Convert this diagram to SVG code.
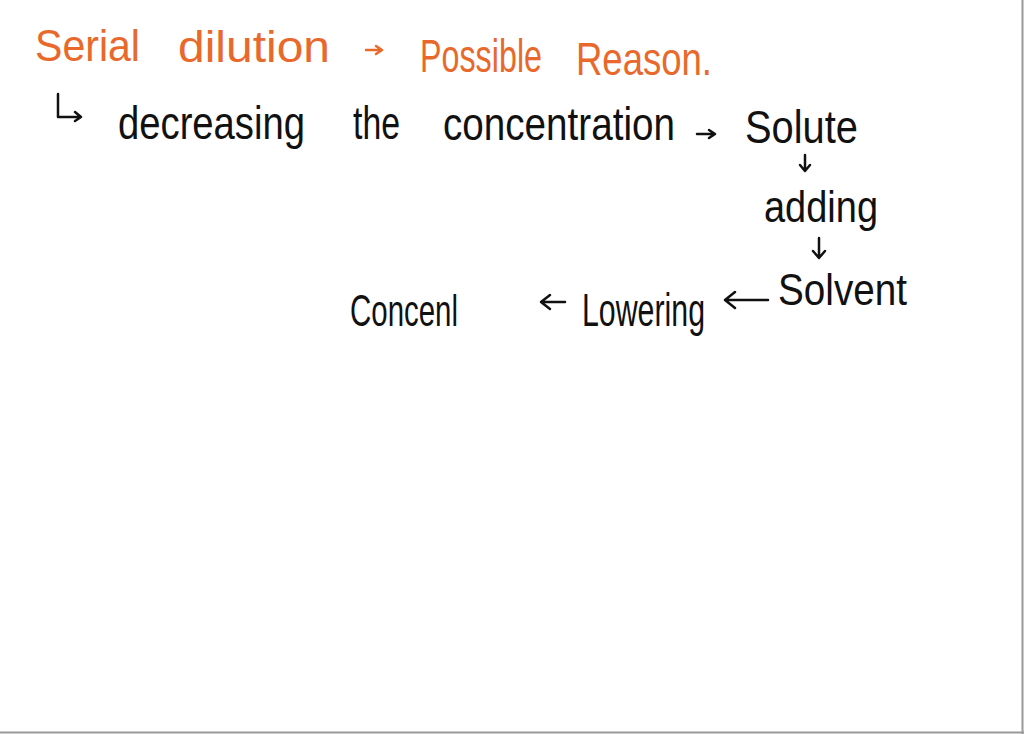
<svg xmlns="http://www.w3.org/2000/svg" width="1024" height="734" viewBox="0 0 1024 734">
<style>
.t{font-family:"Liberation Sans","DejaVu Sans",sans-serif;font-weight:normal}
.o{fill:#E8692B}
.k{fill:#111}
.ao{stroke:#E8692B;stroke-width:2.5;fill:none;stroke-linecap:round;stroke-linejoin:round}
.ak{stroke:#111;stroke-width:2.5;fill:none;stroke-linecap:round;stroke-linejoin:round}
</style>
<rect width="1024" height="734" fill="#fff"/>
<line x1="1022.5" y1="0" x2="1022.5" y2="734" stroke="#999" stroke-width="2"/>
<line x1="0" y1="732.5" x2="1024" y2="732.5" stroke="#999" stroke-width="2"/>
<g id="title">
<text class="t o" x="35" y="61" font-size="44" textLength="105" lengthAdjust="spacingAndGlyphs">Serial</text>
<text class="t o" x="178" y="62" font-size="44" textLength="152" lengthAdjust="spacingAndGlyphs">dilution</text>
<text class="t o" x="420" y="72" font-size="46" textLength="122" lengthAdjust="spacingAndGlyphs">Possible</text>
<text class="t o" x="576" y="75" font-size="46" textLength="136" lengthAdjust="spacingAndGlyphs">Reason.</text>
</g>
<g id="line1">
<text class="t k" x="118" y="139" font-size="46" textLength="187" lengthAdjust="spacingAndGlyphs">decreasing</text>
<text class="t k" x="353" y="139" font-size="46" textLength="47" lengthAdjust="spacingAndGlyphs">the</text>
<text class="t k" x="443" y="140" font-size="46" textLength="232" lengthAdjust="spacingAndGlyphs">concentration</text>
</g>
<g id="solute"><text class="t k" x="745" y="143" font-size="46" textLength="113" lengthAdjust="spacingAndGlyphs">Solute</text></g>
<g id="adding"><text class="t k" x="764" y="222" font-size="44" textLength="114" lengthAdjust="spacingAndGlyphs">adding</text></g>
<g id="solvent"><text class="t k" x="778" y="305" font-size="44" textLength="129" lengthAdjust="spacingAndGlyphs">Solvent</text></g>
<g id="lowering"><text class="t k" x="582" y="326" font-size="46" textLength="123" lengthAdjust="spacingAndGlyphs">Lowering</text></g>
<g id="concenl"><text class="t k" x="350" y="326" font-size="44" textLength="108" lengthAdjust="spacingAndGlyphs">Concenl</text></g>
<g id="connectors">
<path class="ao" d="M366 50 L381 50 M376 46 L382 50 L376 54"/>
<path class="ak" d="M58 94 L58 117 L80 117 M75 112 L81 117 L75 121"/>
<path class="ak" d="M697 134 L714 134 M709 130 L715 134 L709 138"/>
<path class="ak" d="M805 155 L805 170 M800 165 L805 171 L810 165"/>
<path class="ak" d="M819 238 L819 257 M813 251 L819 258 L825 251"/>
<path class="ak" d="M768 300 L726 300 M735 292 L725 300 L735 308"/>
<path class="ak" d="M565 302 L542 302 M550 295 L541 302 L550 309"/>
</g>
</svg>
